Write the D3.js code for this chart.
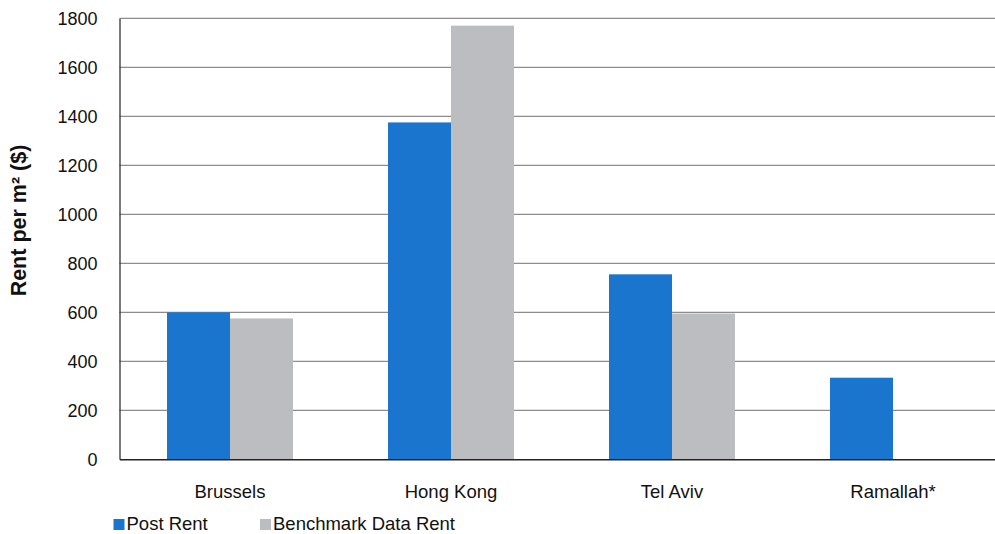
<!DOCTYPE html>
<html>
<head>
<meta charset="utf-8">
<script src="https://cdn.jsdelivr.net/npm/d3@7"></script>
<style>
  html, body { margin: 0; padding: 0; background: #fff; }
  svg { display: block; font-family: "Liberation Sans", Arial, sans-serif; }
</style>
</head>
<body>
<svg id="chart" width="995" height="534"></svg>
<script>
// Office rent per square metre by city
const categories = ["Brussels", "Hong Kong", "Tel Aviv", "Ramallah*"];
const seriesNames = ["Post Rent", "Benchmark Data Rent"];
const postRent = [600, 1375, 755, 333];
const benchmarkRent = [575, 1770, 595, null];
const yTicks = [0, 200, 400, 600, 800, 1000, 1200, 1400, 1600, 1800];
const colors = ["#1a75cf", "#bcbdc1"];

const svg = d3.select("#chart");
const W = 995, H = 534;
const margin = { left: 119.5, top: 18.3, bottom: 74.7 };
// the plot runs slightly past the right edge of the canvas
const plotW = 884;
const innerH = H - margin.top - margin.bottom;

const g = svg.append("g").attr("transform", `translate(${margin.left},${margin.top})`);

const x0 = d3.scaleBand().domain(categories).range([0, plotW]).paddingInner(0.43).paddingOuter(0.215);
const x1 = d3.scaleBand().domain(seriesNames).range([0, x0.bandwidth()]);
const y = d3.scaleLinear().domain([0, 1800]).range([innerH, 0]);

// gridlines
g.append("g")
  .selectAll("line")
  .data(yTicks.filter(t => t > 0))
  .join("line")
  .attr("x1", 0).attr("x2", plotW)
  .attr("y1", d => y(d)).attr("y2", d => y(d))
  .attr("stroke", "#717171").attr("stroke-width", 1);

// bars
const rows = categories.map((c, i) => ({ cat: c, values: [postRent[i], benchmarkRent[i]] }));
const groups = g.append("g").selectAll("g")
  .data(rows).join("g")
  .attr("transform", d => `translate(${x0(d.cat)},0)`);
groups.selectAll("rect")
  .data(d => d.values.map((v, j) => ({ name: seriesNames[j], v, j })).filter(e => e.v != null))
  .join("rect")
  .attr("x", d => x1(d.name))
  .attr("width", x1.bandwidth())
  .attr("y", d => y(d.v))
  .attr("height", d => innerH - y(d.v))
  .attr("fill", d => colors[d.j]);

// y axis
const yAxis = g.append("g").call(d3.axisLeft(y).tickValues(yTicks).tickFormat(d3.format("d")).tickSize(0).tickPadding(22));
yAxis.select(".domain").attr("stroke", "#222").attr("stroke-width", 1.2);
yAxis.selectAll("text").attr("font-size", 18).attr("fill", "#111").attr("font-family", "Liberation Sans, Arial, sans-serif");

// x axis
const xAxis = g.append("g").attr("transform", `translate(0,${innerH})`)
  .call(d3.axisBottom(x0).tickSize(0).tickPadding(26));
xAxis.select(".domain").attr("stroke", "#222").attr("stroke-width", 1.4);
xAxis.selectAll("text").attr("font-size", 18.5).attr("fill", "#111").attr("font-family", "Liberation Sans, Arial, sans-serif");

// y axis title
svg.append("text")
  .attr("transform", "translate(26,220.5) rotate(-90)")
  .attr("text-anchor", "middle")
  .attr("font-size", 21.5)
  .attr("font-weight", "bold")
  .attr("fill", "#111")
  .text("Rent per m² ($)");

// legend
const legendX = [113.5, 260];
const legend = svg.append("g").selectAll("g")
  .data(seriesNames).join("g")
  .attr("transform", (d, i) => `translate(${legendX[i]},519)`);
legend.append("rect").attr("width", 11).attr("height", 11).attr("fill", (d, i) => colors[i]);
legend.append("text").attr("x", 13).attr("y", 11).attr("font-size", 18.5).attr("fill", "#111").text(d => d);
</script>
</body>
</html>
